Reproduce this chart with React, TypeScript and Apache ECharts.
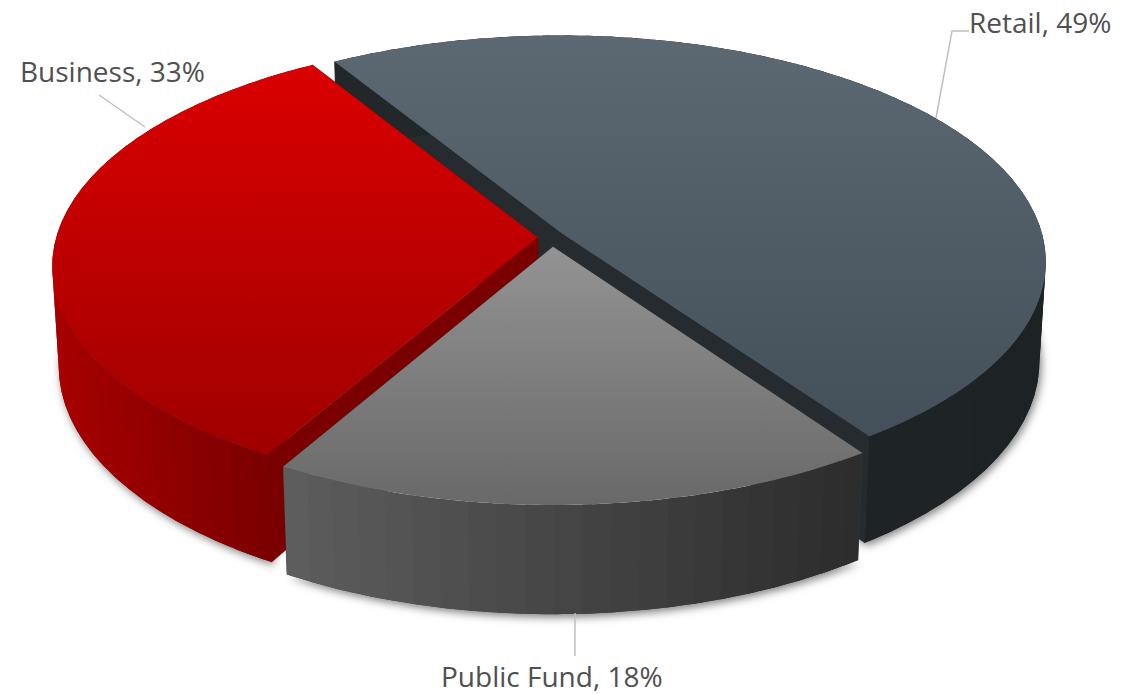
import React, { useEffect, useRef } from "react";
import * as echarts from "echarts";

// Deposit mix, percent of total, swept anticlockwise from the front-right cut.
const categories = ["Retail", "Business", "Public Fund"];
const shares = [49, 33, 18];

const START_ANGLE = 55;
const CENTER = { x: 553, y: 240 };
const RADIUS = 482;
const TILT = 0.465;
const PERSPECTIVE = 0.125;
const THICKNESS = 100 / 482;
const DEPTH_SHRINK = 0.013;
const PANEL_STRIDE = 3;
// Each wedge's pull-out from the disc centre, in disc units.
const PULL_OUT = [
  [0.018, -0.03],
  [-0.032, -0.012],
  [0, 0.03],
];

const topFills = [
  ["#5c6973", "#434f59"],
  ["#da0000", "#9f0000"],
  ["#939393", "#696969"],
];
const wallFills = [
  [0x22, 0x27, 0x2a, 0x1d, 0x22, 0x25],
  [0xa8, 0x00, 0x00, 0x72, 0x00, 0x00],
  [0x5e, 0x5e, 0x5e, 0x2c, 0x2c, 0x2c],
];
const cutFills = ["#252b2e", "#7a0000", "#3a3a3a"];

const labelLayouts = [
  { x: 969, y: 22, leader: [[969, 31], [952, 31], [936, 118]] },
  { x: 20, y: 71, leader: [[99, 95], [145, 127]] },
  { x: 441, y: 676, leader: [[575, 613], [575, 656]] },
];

// Projects a point of the unit disc; z runs from the top face (0) to the bottom (1).
function project(dx: number, dy: number, z: number): number[] {
  const w = 1 - PERSPECTIVE * dy + DEPTH_SHRINK * z;
  return [
    CENTER.x + (RADIUS * dx) / w,
    CENTER.y + (RADIUS * (TILT * dy + THICKNESS * z)) / w,
  ];
}

function verticalFill(stops: string[]) {
  return new echarts.graphic.LinearGradient(0, 0, 0, 1, [
    { offset: 0, color: stops[0] },
    { offset: 1, color: stops[1] },
  ]);
}

function wedge(i: number, value: number) {
  const before = shares.slice(0, i).reduce((a, b) => a + b, 0);
  const total = shares.reduce((a, b) => a + b, 0);
  const from = START_ANGLE - (before / total) * 360;
  const to = from - (value / total) * 360;
  const [ox, oy] = PULL_OUT[i];
  const rim = (z: number) => {
    const points: number[][] = [];
    const steps = Math.ceil(from - to);
    for (let s = 0; s <= steps; s++) {
      const a = ((from + ((to - from) * s) / steps) * Math.PI) / 180;
      points.push(project(ox + Math.cos(a), oy + Math.sin(a), z));
    }
    return points;
  };
  return {
    topRim: rim(0),
    bottomRim: rim(1),
    apexTop: project(ox, oy, 0),
    apexBottom: project(ox, oy, 1),
  };
}

// Monotone-chain hull of the bottom rim, the outline that throws the shadow.
function convexHull(points: number[][]): number[][] {
  const sorted = points.slice().sort((a, b) => a[0] - b[0] || a[1] - b[1]);
  const cross = (o: number[], a: number[], b: number[]) =>
    (a[0] - o[0]) * (b[1] - o[1]) - (a[1] - o[1]) * (b[0] - o[0]);
  const chain = (list: number[][]) => {
    const out: number[][] = [];
    for (const p of list) {
      while (out.length >= 2 && cross(out[out.length - 2], out[out.length - 1], p) <= 0) out.pop();
      out.push(p);
    }
    out.pop();
    return out;
  };
  return [...chain(sorted), ...chain(sorted.slice().reverse())];
}

// Soft drop shadow under the outer walls, painted before any wedge.
function renderShadow(params: any, api: any) {
  const { bottomRim } = wedge(params.dataIndex, api.value(0));
  return {
    type: "polygon",
    shape: { points: convexHull(bottomRim) },
    style: {
      fill: "#444444",
      shadowColor: "rgba(0,0,0,0.5)",
      shadowBlur: 8,
      shadowOffsetX: 2,
      shadowOffsetY: 3,
    },
  };
}

function renderSlice(params: any, api: any) {
  const i = params.dataIndex;
  const value = api.value(0);
  const { topRim, bottomRim, apexTop, apexBottom } = wedge(i, value);
  const last = topRim.length - 1;
  const layout = labelLayouts[i];
  const xs = topRim.map((p) => p[0]);
  const minX = Math.min(...xs);
  const maxX = Math.max(...xs);
  const c = wallFills[i];

  // The outer wall is a strip of panels shaded along the x axis; each one runs
  // a little under its neighbour so no seam opens between them.
  const panels: any[] = [];
  for (let s = 0; s < last; s += PANEL_STRIDE) {
    const e = Math.min(s + PANEL_STRIDE + 1, last);
    const t = ((topRim[s][0] + topRim[e][0]) / 2 - minX) / (maxX - minX);
    const channel = (k: number) => Math.round(c[k] + (c[k + 3] - c[k]) * t);
    panels.push({
      type: "polygon",
      shape: {
        points: [...topRim.slice(s, e + 1), ...bottomRim.slice(s, e + 1).reverse()],
      },
      style: { fill: `rgb(${channel(0)},${channel(1)},${channel(2)})` },
    });
  }

  const children: any[] = [
    {
      type: "polygon",
      shape: { points: [apexTop, topRim[0], bottomRim[0], apexBottom] },
      style: { fill: cutFills[i], stroke: cutFills[i], lineWidth: 0.7 },
    },
    {
      type: "polygon",
      shape: { points: [apexTop, topRim[last], bottomRim[last], apexBottom] },
      style: { fill: cutFills[i], stroke: cutFills[i], lineWidth: 0.7 },
    },
    ...panels,
    {
      type: "polygon",
      shape: { points: [apexTop, ...topRim] },
      style: { fill: verticalFill(topFills[i]) },
    },
    {
      type: "polyline",
      shape: { points: layout.leader },
      style: { stroke: "#bfbfbf", lineWidth: 1.5, fill: "none" },
    },
    {
      type: "text",
      style: {
        text: `${categories[i]}, ${value}%`,
        x: layout.x,
        y: layout.y,
        fontFamily: "Open Sans",
        fontSize: 28,
        fill: "#505050",
        textAlign: "left",
        textVerticalAlign: "middle",
      },
    },
  ];
  return { type: "group", children };
}

export default function App() {
  const ref = useRef<HTMLDivElement>(null);
  useEffect(() => {
    const chart = echarts.init(ref.current!, null, { renderer: "svg" });
    const data = shares.map((v, i) => ({ name: categories[i], value: [v] }));
    chart.setOption({
      animation: false,
      backgroundColor: "#ffffff",
      series: [
        { type: "custom", coordinateSystem: "none", renderItem: renderShadow, silent: true, z: 1, data },
        { type: "custom", coordinateSystem: "none", renderItem: renderSlice, silent: true, z: 2, data },
      ],
    });
    return () => chart.dispose();
  }, []);
  return <div ref={ref} style={{ position: "fixed", left: 0, top: 0, width: 1140, height: 694 }} />;
}
